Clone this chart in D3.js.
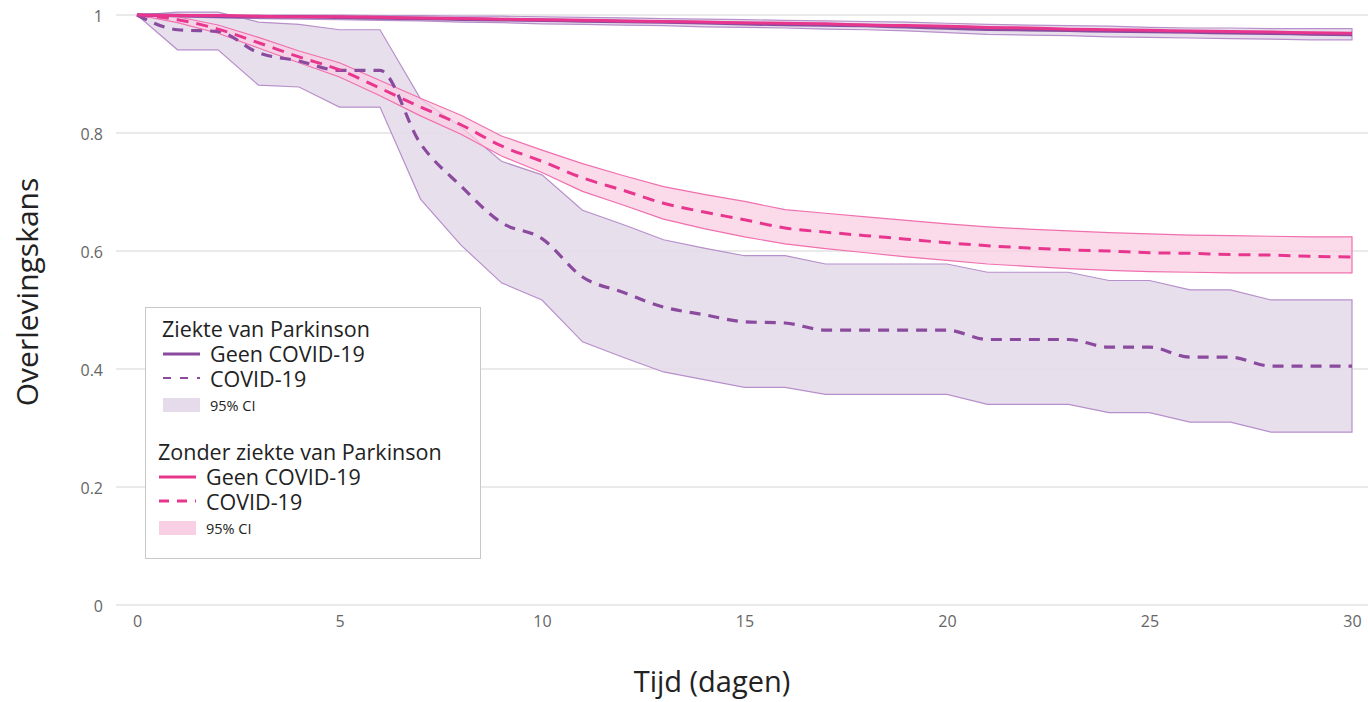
<!DOCTYPE html>
<html>
<head>
<meta charset="utf-8">
<script src="https://cdn.jsdelivr.net/npm/d3@7"></script>
<style>
  html, body { margin: 0; padding: 0; background: #fff; }
  svg { display: block; font-family: "Open Sans", "Noto Sans", sans-serif; }
</style>
</head>
<body>
<svg id="chart" width="1368" height="702"></svg>
<script>
// days 0..30
const days = d3.range(0, 31);

// Ziekte van Parkinson, COVID-19 (dashed) + 95% CI
const pdCovid = [1.0, 0.975, 0.972, 0.936, 0.922, 0.906, 0.906, 0.782, 0.71, 0.648, 0.621, 0.556, 0.53, 0.505, 0.492, 0.48, 0.478, 0.466, 0.466, 0.466, 0.466, 0.45, 0.45, 0.45, 0.437, 0.437, 0.42, 0.42, 0.405, 0.405, 0.405];
const pdCovidUp = [1.0, 1.005, 1.005, 0.988, 0.984, 0.975, 0.975, 0.858, 0.81, 0.752, 0.729, 0.669, 0.645, 0.619, 0.605, 0.592, 0.592, 0.578, 0.578, 0.578, 0.578, 0.564, 0.564, 0.564, 0.55, 0.55, 0.534, 0.534, 0.517, 0.517, 0.517];
const pdCovidLo = [1.0, 0.941, 0.941, 0.881, 0.878, 0.844, 0.844, 0.688, 0.61, 0.546, 0.517, 0.446, 0.42, 0.395, 0.382, 0.369, 0.369, 0.357, 0.357, 0.357, 0.357, 0.34, 0.34, 0.34, 0.326, 0.326, 0.31, 0.31, 0.293, 0.293, 0.293];

// Ziekte van Parkinson, geen COVID-19 (solid) + 95% CI
const pdNoCovid = [1.0, 0.999, 0.998, 0.997, 0.997, 0.996, 0.995, 0.994, 0.993, 0.992, 0.991, 0.99, 0.989, 0.988, 0.987, 0.985, 0.984, 0.983, 0.982, 0.98, 0.978, 0.976, 0.975, 0.974, 0.973, 0.972, 0.971, 0.97, 0.969, 0.968, 0.967];
const pdNoCovidUp = [1.0, 1.0, 1.0, 1.0, 1.0, 1.0, 0.999, 0.999, 0.998, 0.998, 0.997, 0.996, 0.995, 0.994, 0.993, 0.992, 0.991, 0.99, 0.989, 0.988, 0.986, 0.984, 0.983, 0.982, 0.981, 0.979, 0.978, 0.978, 0.977, 0.977, 0.977];
const pdNoCovidLo = [1.0, 0.997, 0.995, 0.994, 0.993, 0.992, 0.991, 0.99, 0.988, 0.987, 0.985, 0.984, 0.983, 0.982, 0.98, 0.979, 0.978, 0.976, 0.975, 0.973, 0.97, 0.967, 0.966, 0.965, 0.963, 0.962, 0.961, 0.96, 0.959, 0.958, 0.958];

// Zonder ziekte van Parkinson, COVID-19 (dashed) + 95% CI
const noPdCovid = [1.0, 0.992, 0.976, 0.953, 0.929, 0.907, 0.876, 0.844, 0.814, 0.778, 0.752, 0.724, 0.703, 0.681, 0.666, 0.653, 0.639, 0.632, 0.626, 0.62, 0.614, 0.609, 0.605, 0.602, 0.6, 0.597, 0.596, 0.594, 0.593, 0.591, 0.59];
const noPdCovidUp = [1.0, 0.997, 0.983, 0.962, 0.939, 0.919, 0.889, 0.859, 0.83, 0.795, 0.771, 0.748, 0.728, 0.709, 0.696, 0.684, 0.67, 0.664, 0.658, 0.652, 0.646, 0.641, 0.637, 0.634, 0.631, 0.629, 0.627, 0.626, 0.625, 0.624, 0.624];
const noPdCovidLo = [1.0, 0.987, 0.969, 0.944, 0.919, 0.895, 0.863, 0.829, 0.798, 0.761, 0.733, 0.701, 0.678, 0.654, 0.638, 0.624, 0.612, 0.604, 0.597, 0.59, 0.584, 0.578, 0.574, 0.57, 0.567, 0.565, 0.564, 0.563, 0.563, 0.563, 0.563];

// Zonder ziekte van Parkinson, geen COVID-19 (solid)
const noPdNoCovid = [1.0, 0.999, 0.999, 0.998, 0.997, 0.997, 0.996, 0.995, 0.994, 0.993, 0.992, 0.991, 0.99, 0.989, 0.988, 0.987, 0.986, 0.985, 0.983, 0.982, 0.981, 0.979, 0.978, 0.976, 0.975, 0.974, 0.973, 0.972, 0.971, 0.97, 0.969];

const xTicks = [0, 5, 10, 15, 20, 25, 30];
const yTicks = [0, 0.2, 0.4, 0.6, 0.8, 1];

const purple = '#8a4a9e';
const pink = '#e8368f';
const purpleFill = '#e6dbeb';
const purpleEdge = '#b78fca';
const pinkFill = '#f9cfe3';
const pinkEdge = '#f06fae';

const svg = d3.select('#chart');

const x = d3.scaleLinear().domain([0, 30]).range([137, 1352]);
const y = d3.scaleLinear().domain([0, 1]).range([605, 15]);

// gridlines
svg.append('g')
  .selectAll('line')
  .data(yTicks)
  .join('line')
  .attr('x1', 116).attr('x2', 1368)
  .attr('y1', d => y(d)).attr('y2', d => y(d))
  .attr('stroke', '#e3e3e3')
  .attr('stroke-width', 1.5);

// y axis labels
const yAxis = d3.axisLeft(y).tickValues(yTicks).tickSize(0).tickPadding(0)
  .tickFormat(d => d === 0 || d === 1 ? d3.format('d')(d) : d3.format('.1f')(d));
svg.append('g')
  .attr('transform', 'translate(103,1)')
  .call(yAxis)
  .call(g => g.select('.domain').remove())
  .call(g => g.selectAll('text')
    .attr('fill', '#666')
    .style('font-size', '16px')
    .style('font-family', '"Open Sans", sans-serif'));

// x axis labels
const xAxis = d3.axisBottom(x).tickValues(xTicks).tickSize(0).tickPadding(0);
svg.append('g')
  .attr('transform', 'translate(0,616)')
  .call(xAxis)
  .call(g => g.select('.domain').remove())
  .call(g => g.selectAll('text')
    .attr('fill', '#666')
    .style('font-size', '16px')
    .style('font-family', '"Open Sans", sans-serif'));

// axis titles
svg.append('text')
  .attr('x', 712).attr('y', 692)
  .attr('text-anchor', 'middle')
  .attr('fill', '#222')
  .style('font-size', '29px')
  .text('Tijd (dagen)');

svg.append('text')
  .attr('transform', 'translate(38,292) rotate(-90)')
  .attr('text-anchor', 'middle')
  .attr('fill', '#222')
  .style('font-size', '30px')
  .text('Overlevingskans');

const band = (up, lo) => d3.area()
  .x((d, i) => x(days[i]))
  .y0((d, i) => y(lo[i]))
  .y1((d, i) => y(up[i]));

const line = vals => d3.line()
  .x((d, i) => x(days[i]))
  .y((d, i) => y(vals[i]))
  .curve(d3.curveMonotoneX);

function drawBand(up, lo, fill, edge, op) {
  svg.append('path')
    .datum(days)
    .attr('d', band(up, lo))
    .attr('fill', fill)
    .attr('fill-opacity', op)
    .attr('stroke', edge)
    .attr('stroke-width', 1.2);
}

function drawLine(vals, color, dash, width) {
  svg.append('path')
    .datum(days)
    .attr('d', line(vals))
    .attr('fill', 'none')
    .attr('stroke', color)
    .attr('stroke-width', width)
    .attr('stroke-dasharray', dash)
    .attr('stroke-linecap', 'butt');
}

drawBand(pdCovidUp, pdCovidLo, purpleFill, purpleEdge, 0.9);
drawBand(noPdCovidUp, noPdCovidLo, pinkFill, pinkEdge, 0.75);
drawBand(pdNoCovidUp, pdNoCovidLo, purpleFill, purpleEdge, 0.9);

drawLine(pdCovid, purple, '11 8', 3.2);
drawLine(noPdCovid, pink, '12 8', 3);
drawLine(pdNoCovid, purple, null, 3.5);
drawLine(noPdNoCovid, pink, null, 3);

// legend
const legend = svg.append('g');
legend.append('rect')
  .attr('x', 145.5).attr('y', 307.5)
  .attr('width', 335).attr('height', 251)
  .attr('fill', '#fff')
  .attr('stroke', '#c8c8c8')
  .attr('stroke-width', 1);

const legendGroups = [
  {title: 'Ziekte van Parkinson', color: purple, fill: purpleFill, top: 0, tx: 162, dash: '8 9', dashW: 2},
  {title: 'Zonder ziekte van Parkinson', color: pink, fill: pinkFill, top: 123, tx: 158, dash: '10 8', dashW: 3}
];

legendGroups.forEach(g => {
  const t = 337 + g.top;
  legend.append('text')
    .attr('x', g.tx).attr('y', t)
    .attr('fill', '#222')
    .style('font-size', '21.5px')
    .text(g.title);
  legend.append('line')
    .attr('x1', g.tx + 1).attr('x2', g.tx + 38)
    .attr('y1', t + 17).attr('y2', t + 17)
    .attr('stroke', g.color).attr('stroke-width', 3);
  legend.append('text')
    .attr('x', g.tx + 48).attr('y', t + 25)
    .attr('fill', '#222')
    .style('font-size', '21.5px')
    .text('Geen COVID-19');
  legend.append('line')
    .attr('x1', g.tx + 1).attr('x2', g.tx + 38)
    .attr('y1', t + 41).attr('y2', t + 41)
    .attr('stroke', g.color).attr('stroke-width', g.dashW)
    .attr('stroke-dasharray', g.dash);
  legend.append('text')
    .attr('x', g.tx + 48).attr('y', t + 50)
    .attr('fill', '#222')
    .style('font-size', '21.5px')
    .text('COVID-19');
  legend.append('rect')
    .attr('x', g.tx + 1).attr('y', t + 61)
    .attr('width', 37).attr('height', 14)
    .attr('fill', g.fill);
  legend.append('text')
    .attr('x', g.tx + 48).attr('y', t + 74)
    .attr('fill', '#222')
    .style('font-size', '14.5px')
    .text('95% CI');
});
</script>
</body>
</html>
